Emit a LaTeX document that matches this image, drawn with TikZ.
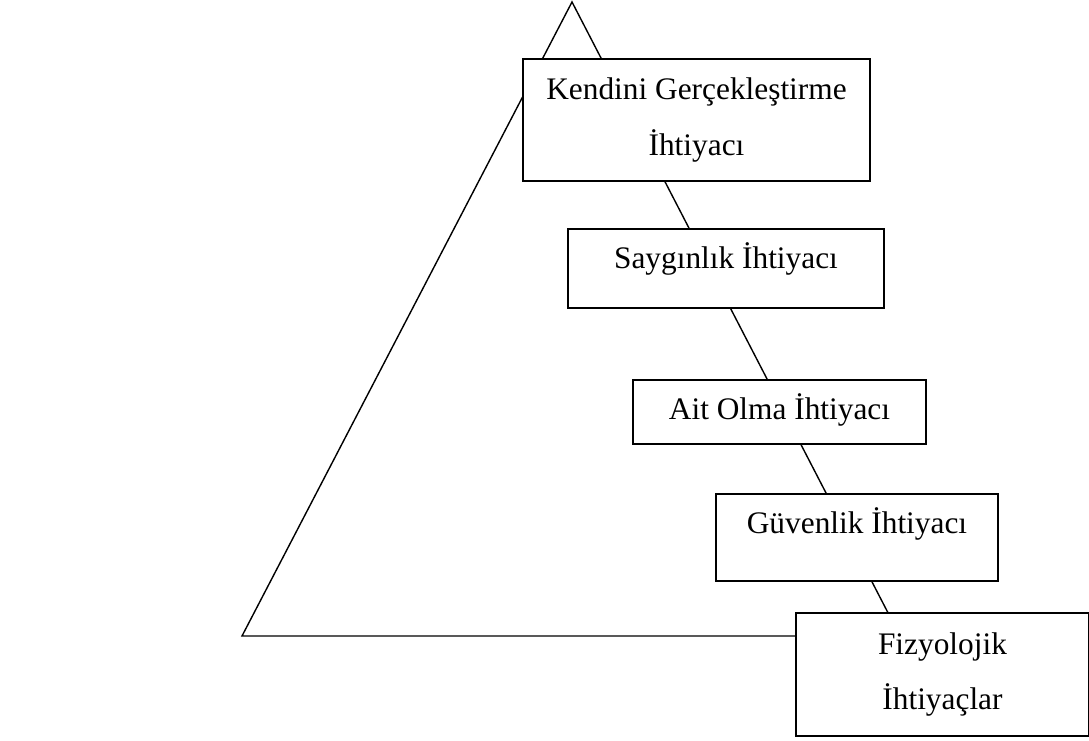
\documentclass[tikz,border=0pt]{standalone}
\usepackage{fontspec}
\setmainfont{Liberation Serif}
\usepackage{tikz}
\usetikzlibrary{positioning,calc}

\begin{document}
\begin{tikzpicture}[
    x=1cm,y=1cm,
    kutu/.style    = {draw=black, fill=white, line width=1.4pt, inner sep=0pt,
                      align=center, anchor=north west,
                      font=\fontsize{22.3}{39.7}\selectfont},
    tekkutu/.style = {kutu, text height=1cm, text depth=#1},
    kenar/.style   = {black, line width=1pt, line join=miter},
  ]
  \useasboundingbox (0,0) rectangle (27.225,18.5);

  % ── Piramit ─────────────────────────────────────────────────────────────
  \coordinate (tepe)   at (14.30,18.45);
  \coordinate (solalt) at ( 6.05, 2.60);
  \coordinate (sagalt) at (22.50, 2.60);
  \draw[kenar] (tepe) -- (solalt) -- (sagalt) -- cycle;

  % ── Basamaklar ──────────────────────────────────────────────────────────
  \node[kutu, minimum width=8.675cm, minimum height=3.05cm]
       (kendini) at (13.05,17.05) {Kendini Gerçekleştirme\\İhtiyacı};
  \node[tekkutu=0.975cm, minimum width=7.9cm]
       (saygi)   at (14.175,12.8) {Saygınlık İhtiyacı};
  \node[tekkutu=0.6cm, minimum width=7.325cm]
       (ait)     at (15.8,9.025)  {Ait Olma İhtiyacı};
  \node[tekkutu=1.175cm, minimum width=7.05cm]
       (guven)   at (17.875,6.175) {Güvenlik İhtiyacı};
  \node[kutu, minimum width=7.325cm, minimum height=3.075cm]
       (fizyo)   at (19.875,3.2)  {Fizyolojik\\İhtiyaçlar};

\end{tikzpicture}
\end{document}
